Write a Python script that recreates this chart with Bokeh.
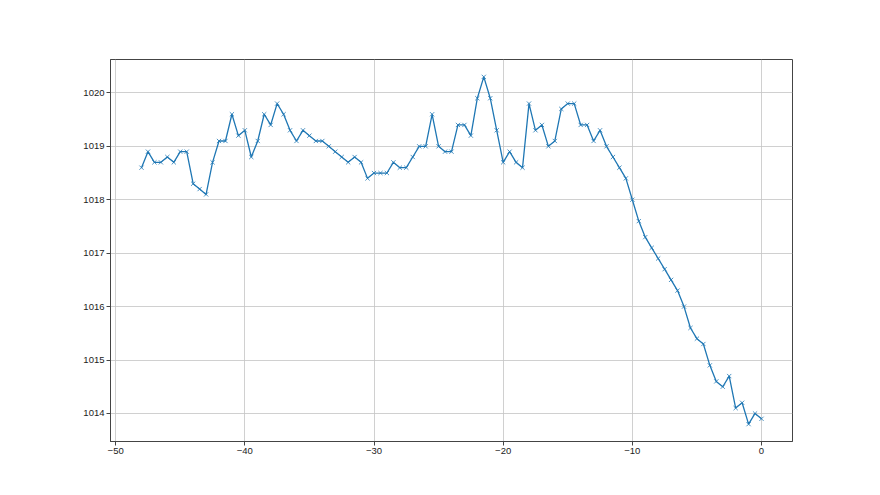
from bokeh.plotting import figure
from bokeh.models import FixedTicker, Range1d
from bokeh.embed import file_html
from bokeh.resources import INLINE

# ---- data ----
hours = [-48 + 0.5 * i for i in range(97)]
pressure = [
    1018.6, 1018.9, 1018.7, 1018.7, 1018.8, 1018.7, 1018.9, 1018.9, 1018.3, 1018.2,
    1018.1, 1018.7, 1019.1, 1019.1, 1019.6, 1019.2, 1019.3, 1018.8, 1019.1, 1019.6,
    1019.4, 1019.8, 1019.6, 1019.3, 1019.1, 1019.3, 1019.2, 1019.1, 1019.1, 1019.0,
    1018.9, 1018.8, 1018.7, 1018.8, 1018.7, 1018.4, 1018.5, 1018.5, 1018.5, 1018.7,
    1018.6, 1018.6, 1018.8, 1019.0, 1019.0, 1019.6, 1019.0, 1018.9, 1018.9, 1019.4,
    1019.4, 1019.2, 1019.9, 1020.3, 1019.9, 1019.3, 1018.7, 1018.9, 1018.7, 1018.6,
    1019.8, 1019.3, 1019.4, 1019.0, 1019.1, 1019.7, 1019.8, 1019.8, 1019.4, 1019.4,
    1019.1, 1019.3, 1019.0, 1018.8, 1018.6, 1018.4, 1018.0, 1017.6, 1017.3, 1017.1,
    1016.9, 1016.7, 1016.5, 1016.3, 1016.0, 1015.6, 1015.4, 1015.3, 1014.9, 1014.6,
    1014.5, 1014.7, 1014.1, 1014.2, 1013.8, 1014.0, 1013.9,
]
x_ticks = [-50, -40, -30, -20, -10, 0]
x_tick_labels = ["\u221250", "\u221240", "\u221230", "\u221220", "\u221210", "0"]
y_ticks = [1014, 1015, 1016, 1017, 1018, 1019, 1020]
y_tick_labels = ["1014", "1015", "1016", "1017", "1018", "1019", "1020"]

# ---- ranges with 5% margins ----
xmin, xmax = min(hours), max(hours)
ymin, ymax = min(pressure), max(pressure)
xm = 0.05 * (xmax - xmin)
ym = 0.05 * (ymax - ymin)

p = figure(
    frame_width=682, frame_height=382,
    min_border_left=110, min_border_top=59, min_border_right=80, min_border_bottom=46,
    x_range=Range1d(xmin - xm, xmax + xm), y_range=Range1d(ymin - ym, ymax + ym),
    output_backend="svg", toolbar_location=None,
    background_fill_color="white", border_fill_color="white",
)

line_color = "#1f77b4"
p.line(hours, pressure, line_color=line_color, line_width=1.3)
p.scatter(hours, pressure, marker="x", size=6, line_color=line_color, line_width=0.8)

p.xaxis.ticker = FixedTicker(ticks=x_ticks)
p.yaxis.ticker = FixedTicker(ticks=y_ticks)
p.xaxis.major_label_overrides = dict(zip(x_ticks, x_tick_labels))
p.yaxis.major_label_overrides = dict(zip(y_ticks, y_tick_labels))

for ax in (p.xaxis, p.yaxis):
    ax.axis_line_color = "#444444"
    ax.axis_line_width = 1
    ax.major_tick_line_color = "#444444"
    ax.major_tick_out = 4
    ax.major_tick_in = 0
    ax.minor_tick_line_color = None
    ax.major_label_text_font = "Liberation Sans"
    ax.major_label_text_font_size = "9.5px"
    ax.major_label_text_color = "#222222"
    ax.major_label_standoff = 2

p.outline_line_color = "#444444"
p.outline_line_width = 1
p.outline_line_alpha = 1

p.xgrid.grid_line_color = "#c4c4c4"
p.ygrid.grid_line_color = "#c4c4c4"
p.xgrid.grid_line_width = 0.8
p.ygrid.grid_line_width = 0.8

open("out.html", "w").write(file_html(p, INLINE))
